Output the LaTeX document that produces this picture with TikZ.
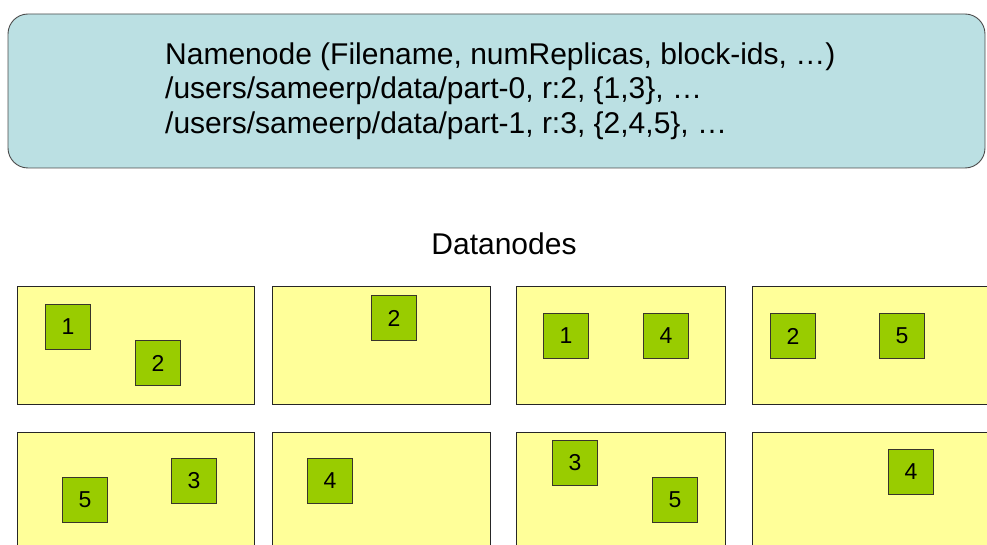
\documentclass[tikz,border=0pt]{standalone}
\usepackage{fontspec}
\setmainfont{Liberation Sans}
\definecolor{nnblue}{RGB}{187,224,227}
\definecolor{dnyellow}{RGB}{255,255,153}
\definecolor{blkgreen}{RGB}{153,204,0}
\begin{document}
\begin{tikzpicture}[x=1pt,y=-1pt]
	% styles
	\tikzstyle{namebox} += [draw=black!70,fill=nnblue,rounded corners=20pt,line width=0.9pt,inner sep=0pt]
	\tikzstyle{datanode} += [draw=black!85,fill=dnyellow,line width=0.9pt,inner sep=0pt,anchor=north west]
	\tikzstyle{blk} += [draw=black!80!olive,fill=blkgreen,line width=0.9pt,minimum size=45pt,inner sep=0pt,font=\fontsize{23}{27}\selectfont]
	
	% bounding box
	\clip (0,0) rectangle (987,545);
	
	% namenode
	\node[namebox,minimum width=977pt,minimum height=154pt] (nn) at (496.5,91) {};
	\node[anchor=west,align=left,inner sep=0pt,font=\fontsize{30}{34.5}\selectfont] (nntext) at (165,91)
	{Namenode (Filename, numReplicas, block-ids, …)\\
	/users/sameerp/data/part-0, r:2, \{1,3\}, …\\
	/users/sameerp/data/part-1, r:3, \{2,4,5\}, …};
	
	% datanodes
	\node[font=\fontsize{30}{34}\selectfont] (dntitle) at (504,244) {Datanodes};
	\node[datanode,minimum width=237pt,minimum height=118pt] (dna) at (17,286) {};
	\node[datanode,minimum width=218pt,minimum height=118pt] (dnb) at (272,286) {};
	\node[datanode,minimum width=209pt,minimum height=118pt] (dnc) at (516,286) {};
	\node[datanode,minimum width=238pt,minimum height=118pt] (dnd) at (752,286) {};
	\node[datanode,minimum width=237pt,minimum height=118pt] (dne) at (17,432) {};
	\node[datanode,minimum width=218pt,minimum height=118pt] (dnf) at (272,432) {};
	\node[datanode,minimum width=209pt,minimum height=118pt] (dng) at (516,432) {};
	\node[datanode,minimum width=238pt,minimum height=118pt] (dnh) at (752,432) {};
	
	% blocks
	\foreach \x/\y/\n/\name in {68/327/1/a1, 158/363/2/a2, 394/318/2/b2,
		566/336/1/c1, 666/336/4/c4, 793/336/2/d2, 902/336/5/d5,
		85/500/5/e5, 194/481/3/e3, 330/481/4/f4,
		575/463/3/g3, 675/500/5/g5, 911/472/4/h4}
	{
		\node[blk] (blk-\name) at (\x,\y) {\n};
	}
\end{tikzpicture}
\end{document}
